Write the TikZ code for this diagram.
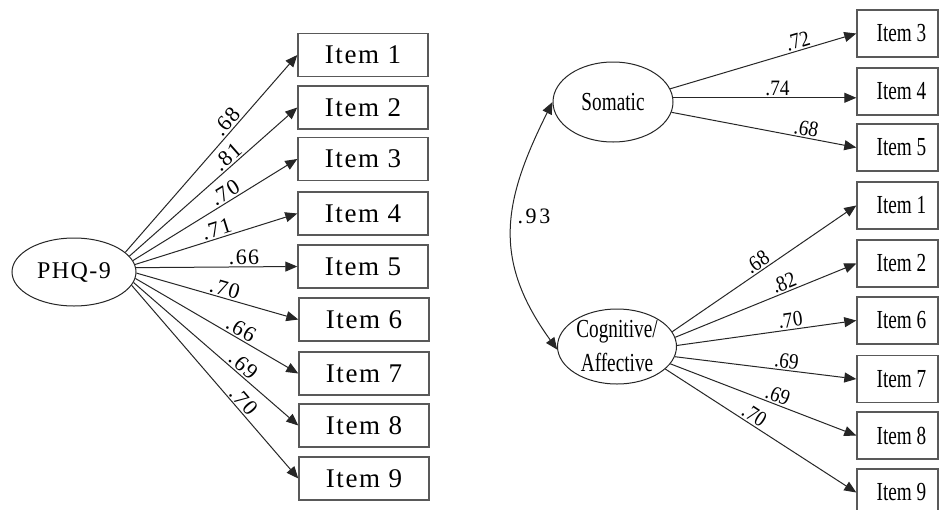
\documentclass[tikz,border=0pt]{standalone}
\usepackage{fontspec}
\setmainfont{Liberation Serif}
\newfontfamily\lfont[LetterSpace=6]{Liberation Serif}
\newfontfamily\nfont[FakeStretch=0.74]{Liberation Serif}
\newfontfamily\numfont[FakeStretch=0.88]{Liberation Serif}
\newfontfamily\sfont[LetterSpace=12]{Liberation Serif}
\usetikzlibrary{arrows.meta,shapes.geometric}
\begin{document}
\begin{tikzpicture}[x=1pt,y=-1pt,
 conn/.style={draw=black!85, line width=1pt, -{Triangle[length=12pt,width=10pt]}},
 lbox/.style={draw=black!65, line width=1.4pt, minimum width=130pt, minimum height=43pt, inner sep=0pt, font=\lfont\fontsize{27}{30}\selectfont},
 rbox/.style={draw=black!65, line width=1.4pt, minimum width=81pt, minimum height=47pt, inner sep=0pt, font=\nfont\fontsize{26}{30}\selectfont, execute at begin node=\hspace*{8pt}},
 lat/.style={ellipse, draw=black!85, line width=1pt, inner sep=0pt},
 llab/.style={sloped, above, inner sep=1.5pt, font=\lfont\fontsize{22}{24}\selectfont},
 rlab/.style={sloped, above, inner sep=1.5pt, font=\numfont\fontsize{22}{24}\selectfont},
]
\useasboundingbox (0,0) rectangle (939,509);
\fill[white] (0,0) rectangle (939,509);
\clip (0,0) rectangle (939,509);

% ---- left model ----
\node[lat, minimum width=124pt, minimum height=68pt, font=\lfont\fontsize{24}{26}\selectfont] (phq) at (74,272) {PHQ-9};
\node[lbox] (l1) at (363,55) {Item 1};
\node[lbox] (l2) at (363,107.5) {Item 2};
\node[lbox] (l3) at (363,159) {Item 3};
\node[lbox] (l4) at (363,213.5) {Item 4};
\node[lbox] (l5) at (363,266.5) {Item 5};
\node[lbox] (l6) at (364,319.5) {Item 6};
\node[lbox] (l7) at (364,373.5) {Item 7};
\node[lbox] (l8) at (364,425.5) {Item 8};
\node[lbox] (l9) at (364,478.5) {Item 9};

\draw[conn] (phq.21) -- node[llab,pos=0.63]{.68} (l1.west);
\draw[conn] (phq.16) -- node[llab,pos=0.62]{.81} (l2.west);
\draw[conn] (phq.11.5) -- node[llab,pos=0.59]{.70} (l3.west);
\draw[conn] (phq.7.5) -- node[llab,pos=0.52]{.71} (l4.west);
\draw[conn] (phq.4.6) -- node[llab,pos=0.67]{.66} (l5.west);
\draw[conn] (phq.-1) -- node[llab,pos=0.53]{.70} (l6.west);
\draw[conn] (phq.-6) -- node[llab,pos=0.62]{.66} (l7.west);
\draw[conn] (phq.-10) -- node[llab,pos=0.63]{.69} (l8.west);
\draw[conn] (phq.-13) -- node[llab,pos=0.63]{.70} (l9.west);

% ---- right model ----
\node[lat, minimum width=120pt, minimum height=80pt, font=\nfont\fontsize{26}{30}\selectfont] (som) at (613,102) {Somatic};
\node[lat, minimum width=119pt, minimum height=75pt, align=center, font=\nfont\fontsize{26}{34}\selectfont] (cog) at (617,346.5) {Cognitive/\\Affective};

\node[rbox] (r3) at (897.5,33.5) {Item 3};
\node[rbox] (r4) at (897.5,91.5) {Item 4};
\node[rbox] (r5) at (897.5,147.5) {Item 5};
\node[rbox] (r1) at (897.5,205.5) {Item 1};
\node[rbox] (r2) at (897.5,263.5) {Item 2};
\node[rbox] (r6) at (897.5,320.5) {Item 6};
\node[rbox] (r7) at (897.5,379) {Item 7};
\node[rbox] (r8) at (897.5,435.5) {Item 8};
\node[rbox] (r9) at (897.5,492.5) {Item 9};

\draw[conn] (som.13) -- node[rlab,pos=0.70]{.72} (r3.west);
\draw[conn] (som.4) -- node[rlab,pos=0.57]{.74} (som.4 -| r4.west);
\draw[conn] (som.-10) -- node[rlab,pos=0.72]{.68} (r5.west);

\draw[conn] (cog.15) -- node[rlab,pos=0.49]{.68} (r1.west);
\draw[conn] (cog.9) -- node[rlab,pos=0.62]{.82} (r2.west);
\draw[conn] (cog.1) -- node[rlab,pos=0.64]{.70} (r6.west);
\draw[conn] (cog.-10) -- node[rlab,pos=0.61]{.69} (r7.west);
\draw[conn] (cog.-18) -- node[rlab,pos=0.56]{.69} (r8.west);
\draw[conn] (cog.-25) -- node[rlab,pos=0.44]{.70} (r9.west);

\draw[draw=black!85, line width=1pt, {Triangle[length=12pt,width=10pt]}-{Triangle[length=12pt,width=10pt]}]
  (som.west) .. controls +(-50,100) and +(-65,-90) .. (cog.183);
\node[font=\sfont\fontsize{22}{24}\selectfont] (cor) at (534,216) {.93};
\end{tikzpicture}
\end{document}
